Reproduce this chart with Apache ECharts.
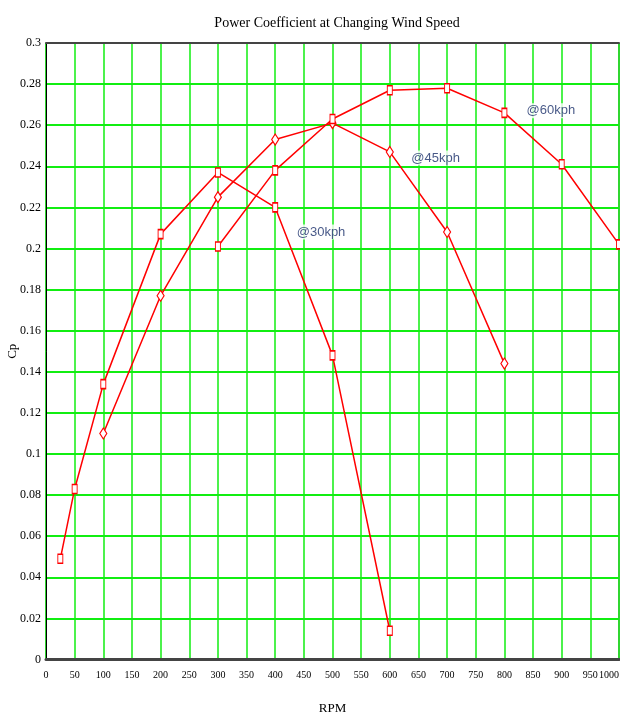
<!DOCTYPE html>
<html>
<head>
<meta charset="utf-8">
<script src="https://cdn.jsdelivr.net/npm/echarts@6/dist/echarts.min.js"></script>
<style>
html,body{margin:0;padding:0;background:#fff;}
#chart{width:620px;height:720px;}
</style>
</head>
<body>
<div id="chart"></div>
<script>
const titleText = 'Power Coefficient at Changing Wind Speed';
const xAxisName = 'RPM';
const yAxisName = 'Cp';

const rpm30 = [25, 50, 100, 200, 300, 400, 500, 600];
const cp30  = [0.049, 0.083, 0.134, 0.207, 0.237, 0.220, 0.148, 0.014];
const rpm45 = [100, 200, 300, 400, 500, 600, 700, 800];
const cp45  = [0.110, 0.177, 0.225, 0.253, 0.261, 0.247, 0.208, 0.144];
const rpm60 = [300, 400, 500, 600, 700, 800, 900, 1000];
const cp60  = [0.201, 0.238, 0.263, 0.277, 0.278, 0.266, 0.241, 0.202];

const labelTexts = ['@30kph', '@45kph', '@60kph'];
const labelX = [480, 680, 881];
const labelY = [0.208, 0.244, 0.267];

function pairs(xs, ys){ return xs.map((x,i)=>[x, ys[i]]); }

const red = '#ff0000';
function lineSeries(name, xs, ys, symbol, size){
  return {
    name: name,
    type: 'line',
    data: pairs(xs, ys),
    symbol: symbol,
    symbolSize: size,
    showAllSymbol: true,
    clip: false,
    lineStyle: {color: red, width: 1.5},
    itemStyle: {color: '#ffffff', borderColor: red, borderWidth: 1.2},
    emphasis: {disabled: true},
    animation: false
  };
}

const chart = echarts.init(document.getElementById('chart'), null, {renderer: 'canvas'});
chart.setOption({
  backgroundColor: '#ffffff',
  animation: false,
  title: {
    text: titleText,
    left: 332,
    top: 11,
    textAlign: 'center',
    textStyle: {fontFamily: 'Liberation Serif', fontSize: 14, fontWeight: 'normal', color: '#000'}
  },
  grid: {
    left: 46, right: 1, top: 43, bottom: 60.5,
    show: true, borderColor: '#222', borderWidth: 1,
    containLabel: false, outerBoundsMode: 'none'
  },
  xAxis: [{
    type: 'value', min: 0, max: 1000, interval: 50,
    name: xAxisName, nameLocation: 'middle', nameGap: 43, nameMoveOverlap: false,
    nameTextStyle: {fontFamily: 'Liberation Serif', fontSize: 13, color: '#000'},
    axisLine: {show: true, lineStyle: {color: '#444', width: 3}},
    axisTick: {show: false},
    axisLabel: {fontFamily: 'Liberation Serif', fontSize: 10, color: '#000', margin: 11,
      alignMaxLabel: 'right', showMaxLabel: true, showMinLabel: true, hideOverlap: false,
      formatter: v => String(v)},
    splitLine: {show: true, lineStyle: {color: '#11ee11', width: 1.5}}
  }, {
    type: 'value', min: 0, max: 1000, position: 'top',
    axisLine: {show: true, lineStyle: {color: '#444', width: 2}},
    axisTick: {show: false}, axisLabel: {show: false}, splitLine: {show: false}
  }],
  yAxis: {
    type: 'value', min: 0, max: 0.3, interval: 0.02,
    name: yAxisName, nameLocation: 'middle', nameGap: 27, nameMoveOverlap: false,
    nameTextStyle: {fontFamily: 'Liberation Serif', fontSize: 13, color: '#000'},
    axisLine: {show: true, lineStyle: {color: '#000', width: 1}},
    axisTick: {show: false},
    axisLabel: {fontFamily: 'Liberation Serif', fontSize: 12, color: '#000', margin: 5,
      formatter: v => String(parseFloat(v.toFixed(2)))},
    splitLine: {show: true, lineStyle: {color: '#11ee11', width: 2}}
  },
  series: [
    lineSeries('@30kph', rpm30, cp30, 'rect', [5, 9]),
    lineSeries('@45kph', rpm45, cp45, 'diamond', [7, 11]),
    lineSeries('@60kph', rpm60, cp60, 'rect', [5, 9]),
    {
      type: 'scatter',
      data: labelTexts.map((t,i)=>({name: t, value: [labelX[i], labelY[i]]})),
      symbolSize: 0,
      silent: true,
      z: 5,
      label: {
        show: true, position: 'inside', formatter: p => p.name,
        fontFamily: "'Liberation Sans', sans-serif",
        fontSize: 13, color: '#1a2f6a', backgroundColor: '#ffffff', padding: [1, 1]
      }
    }
  ]
});
</script>
</body>
</html>
